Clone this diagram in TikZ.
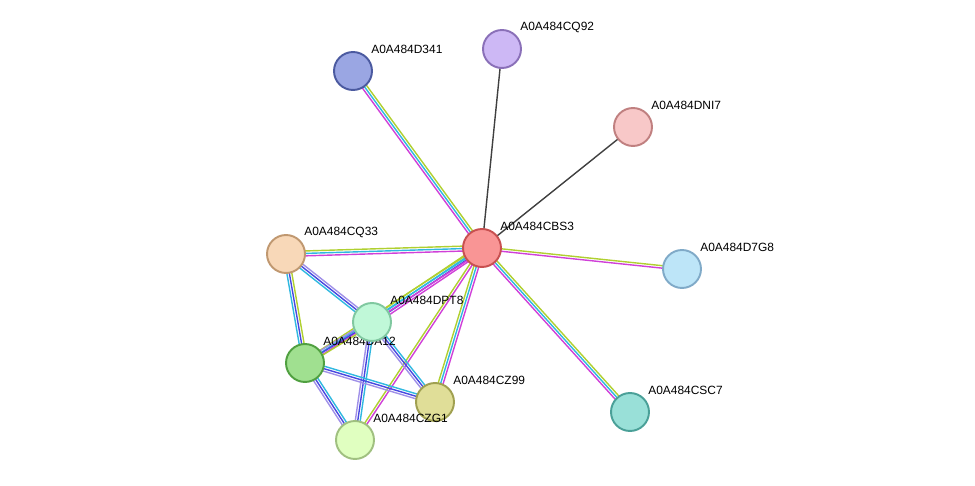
\documentclass[tikz,border=0pt]{standalone}
\usepackage{fontspec}
\setmainfont{Liberation Sans}
\usetikzlibrary{calc,backgrounds}
\definecolor{cM}{HTML}{D040D8}
\definecolor{cC}{HTML}{30B8E0}
\definecolor{cY}{HTML}{B0D030}
\definecolor{cB}{HTML}{4848E0}
\definecolor{cP}{HTML}{A090E8}
\definecolor{cK}{HTML}{404040}
\newcommand{\edgeline}[4]{% a b offset color
  \draw[#4,line width=0.8pt] ($(#1.center)!#3!90:(#2.center)$) -- ($(#2.center)!#3!-90:(#1.center)$);}
\newcommand{\etwo}[4]{\edgeline{#1}{#2}{-0.7pt}{#3}\edgeline{#1}{#2}{0.7pt}{#4}}
\newcommand{\ethree}[5]{\edgeline{#1}{#2}{-1.4pt}{#3}\edgeline{#1}{#2}{0pt}{#4}\edgeline{#1}{#2}{1.4pt}{#5}}
\newcommand{\protn}[6]{\definecolor{f#1}{HTML}{#4}\definecolor{d#1}{HTML}{#5}%
  \node[prot,fill=f#1,draw=d#1] (#1) at (#2,#3) {};
  \node[lab] (#1l) at (#2+18,#3-22) {#6};}
\begin{document}
\begin{tikzpicture}[x=0.02cm,y=-0.02cm,
  prot/.style={circle,minimum size=0.76cm,inner sep=0pt,line width=1.1pt},
  lab/.style={anchor=west,font=\fontsize{6.8}{8}\selectfont,inner sep=0pt}]
\useasboundingbox (0,0) rectangle (975,486);
\protn{CBS3}{482}{248}{F99595}{C85050}{A0A484CBS3}
\protn{CQ92}{502}{49}{CDB8F5}{8A70B8}{A0A484CQ92}
\protn{D341}{353}{71}{9AA6E3}{4B5AA0}{A0A484D341}
\protn{DNI7}{633}{127}{F8C8C8}{C08080}{A0A484DNI7}
\protn{D7G8}{682}{269}{BDE5F8}{80AAC8}{A0A484D7G8}
\protn{CSC7}{630}{412}{99E0D8}{4AA098}{A0A484CSC7}
\protn{CZ99}{435}{402}{E0DE98}{A0A050}{A0A484CZ99}
\protn{CZG1}{355}{440}{E0FFC0}{A0C080}{A0A484CZG1}
\protn{DA12}{305}{363}{A0E090}{50A040}{A0A484DA12}
\protn{DPT8}{372}{322}{C0F8D8}{80C8A0}{A0A484DPT8}
\protn{CQ33}{286}{254}{F8D8B8}{C09870}{A0A484CQ33}
\begin{scope}[on background layer]
\edgeline{CBS3}{CQ92}{0pt}{cK}
\edgeline{CBS3}{DNI7}{0pt}{cK}
\ethree{CBS3}{D341}{cY}{cC}{cM}
\etwo{CBS3}{D7G8}{cM}{cY}
\ethree{CBS3}{CSC7}{cM}{cC}{cY}
\ethree{CBS3}{CQ33}{cY}{cC}{cM}
\edgeline{CBS3}{DPT8}{-2.1pt}{cY}\edgeline{CBS3}{DPT8}{-0.7pt}{cC}\edgeline{CBS3}{DPT8}{0.7pt}{cB}\edgeline{CBS3}{DPT8}{2.1pt}{cM}
\ethree{CBS3}{DA12}{cY}{cC}{cM}
\ethree{CBS3}{CZ99}{cY}{cC}{cM}
\etwo{CBS3}{CZG1}{cY}{cM}
\ethree{CQ33}{DPT8}{cC}{cB}{cP}
\ethree{CQ33}{DA12}{cC}{cB}{cY}
\ethree{DPT8}{DA12}{cP}{cB}{cY}
\ethree{DPT8}{CZG1}{cP}{cB}{cC}
\ethree{DPT8}{CZ99}{cP}{cB}{cC}
\ethree{DA12}{CZ99}{cP}{cB}{cC}
\ethree{DA12}{CZG1}{cP}{cB}{cC}
\end{scope}
\end{tikzpicture}
\end{document}
